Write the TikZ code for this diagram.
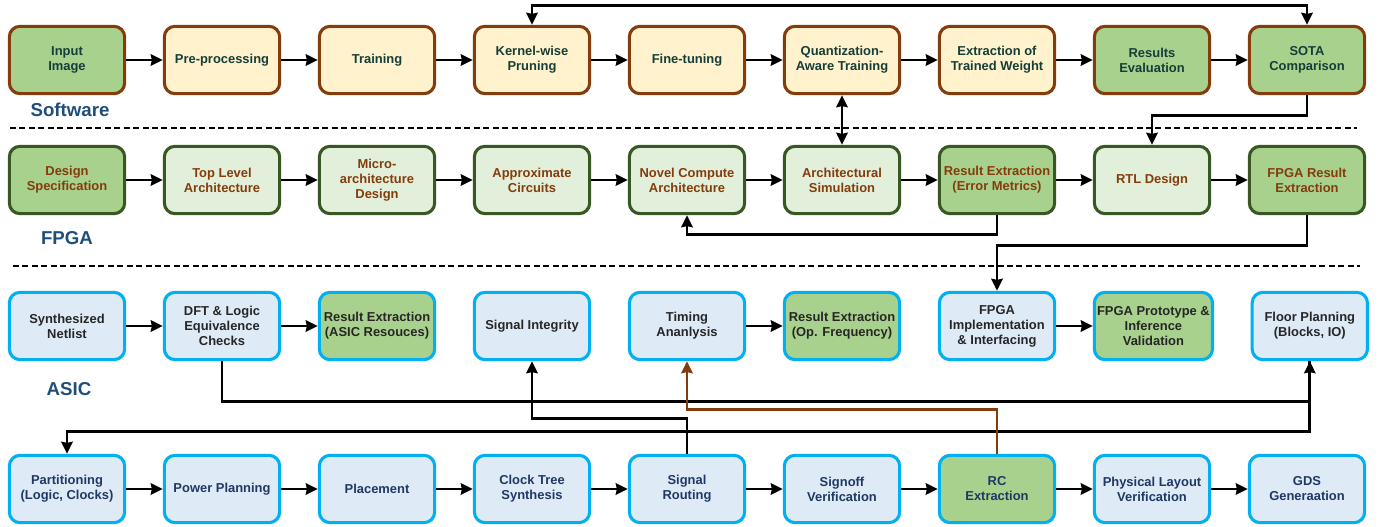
\documentclass[tikz,border=0pt]{standalone}
\usepackage{xcolor}
\usepackage{tikz}
\usepackage{fontspec}
\setmainfont{Liberation Sans}
\definecolor{swbrown}{RGB}{132, 60, 12}
\definecolor{swyellow}{RGB}{255, 242, 204}
\definecolor{swtext}{RGB}{22, 62, 56}
\definecolor{keygreen}{RGB}{169, 209, 142}
\definecolor{fpgagreen}{RGB}{56, 87, 35}
\definecolor{fpgalight}{RGB}{226, 239, 218}
\definecolor{asicblue}{RGB}{0, 176, 240}
\definecolor{asicfill}{RGB}{222, 235, 247}
\definecolor{asicdark}{RGB}{38, 38, 38}
\definecolor{asicnavy}{RGB}{31, 56, 100}
\definecolor{lanetext}{RGB}{31, 78, 121}
\usetikzlibrary{arrows.meta,positioning,calc}

\begin{document}
\begin{tikzpicture}[
    x=0.75pt, y=-0.75pt,
    node distance=27.45pt,
    every node/.style={align=center},
    box/.style={rounded corners=8pt, line width=2.3pt, minimum width=86.5pt, minimum height=50.5pt,
        inner sep=2pt, font=\fontsize{9.7pt}{11.3pt}\selectfont\bfseries},
    sw/.style={box, draw=swbrown, fill=swyellow, text=swtext},
    swkey/.style={sw, fill=keygreen},
    fp/.style={box, draw=fpgagreen, fill=fpgalight, text=swbrown},
    fpkey/.style={fp, fill=keygreen},
    asic/.style={box, draw=asicblue, fill=asicfill, text=asicdark},
    asickey/.style={asic, fill=keygreen},
    pnr/.style={asic, text=asicnavy},
    pnrkey/.style={pnr, fill=keygreen},
    lane/.style={font=\fontsize{14pt}{16pt}\selectfont\bfseries, text=lanetext},
    sep/.style={line width=2.2pt, dash pattern=on 4.5pt off 2.6pt},
    arrow/.style={->,>={Stealth[length=9pt,width=8.5pt,inset=0.8pt]},line width=2pt,black}
]
    \useasboundingbox (0,0) rectangle (1382,527);

    % Software flow
    \node[swkey] (input) at (67,60) {Input\\Image};
    \node[sw, right=of input] (prep) {Pre-processing};
    \node[sw, right=of prep] (train) {Training};
    \node[sw, right=of train] (prune) {Kernel-wise\\Pruning};
    \node[sw, right=of prune] (finetune) {Fine-tuning};
    \node[sw, right=of finetune] (qat) {Quantization-\\Aware Training};
    \node[sw, right=of qat] (weights) {Extraction of\\Trained Weight};
    \node[swkey, right=of weights] (evalres) {Results\\Evaluation};
    \node[swkey, right=of evalres] (sota) {SOTA\\Comparison};
    \node[lane] (swlabel) at (70,110) {Software};

    \draw[sep] (10,128) -- (1357,128);

    % FPGA flow
    \node[fpkey] (spec) at (67,180) {Design\\Specification};
    \node[fp, right=of spec] (toplevel) {Top Level\\Architecture};
    \node[fp, right=of toplevel] (microarch) {Micro-\\architecture\\Design};
    \node[fp, right=of microarch] (approx) {Approximate\\Circuits};
    \node[fp, right=of approx] (novel) {Novel Compute\\Architecture};
    \node[fp, right=of novel] (archsim) {Architectural\\Simulation};
    \node[fpkey, right=of archsim] (errmetric) {Result Extraction\\(Error Metrics)};
    \node[fp, right=of errmetric] (rtl) {RTL Design};
    \node[fpkey, right=of rtl] (fpgares) {FPGA Result\\Extraction};
    \node[lane] (fpgalabel) at (67,238) {FPGA};

    \draw[sep] (13,266) -- (1360,266);

    % ASIC flow
    \node[asic] (netlist) at (67,326) {Synthesized\\Netlist};
    \node[asic, right=of netlist] (dft) {DFT \& Logic\\Equivalence\\Checks};
    \node[asickey, right=of dft] (asicres) {Result Extraction\\(ASIC Resouces)};
    \node[asic, right=of asicres] (sigint) {Signal Integrity};
    \node[asic, right=of sigint] (timing) {Timing\\Ananlysis};
    \node[asickey, right=of timing] (opfreq) {Result Extraction\\(Op. Frequency)};
    \node[asic, right=of opfreq] (fpgaimpl) {FPGA\\Implementation\\\& Interfacing};
    \node[asickey, right=of fpgaimpl] (fpgaproto) {FPGA Prototype \&\\Inference\\Validation};
    \node[asic, right=of fpgaproto] (floorplan) {Floor Planning\\(Blocks, IO)};
    \node[lane] (asiclabel) at (69,389) {ASIC};

    \node[pnr] (partition) at (67,489) {Partitioning\\(Logic, Clocks)};
    \node[pnr, right=of partition] (power) {Power Planning};
    \node[pnr, right=of power] (placement) {Placement};
    \node[pnr, right=of placement] (cts) {Clock Tree\\Synthesis};
    \node[pnr, right=of cts] (routing) {Signal\\Routing};
    \node[pnr, right=of routing] (signoff) {Signoff\\Verification};
    \node[pnrkey, right=of signoff] (rcx) {RC\\Extraction};
    \node[pnr, right=of rcx] (physver) {Physical Layout\\Verification};
    \node[pnr, right=of physver] (gds) {GDS\\Generaation};

    % Arrows along the rows
    \foreach \a/\b in {input/prep, prep/train, train/prune, prune/finetune, finetune/qat,
        qat/weights, weights/evalres, evalres/sota,
        spec/toplevel, toplevel/microarch, microarch/approx, approx/novel, novel/archsim,
        archsim/errmetric, errmetric/rtl, rtl/fpgares,
        netlist/dft, dft/asicres, timing/opfreq, fpgaimpl/fpgaproto,
        partition/power, power/placement, placement/cts, cts/routing, routing/signoff,
        signoff/rcx, rcx/physver, physver/gds}
        \draw[arrow] (\a) -- (\b);

    % Feedback and cross-flow arrows
    \draw[arrow, <->] (prune.north) -- ++(0,-19) -| (sota.north);
    \draw[arrow, <->] (qat.south) -- (archsim.north);
    \draw[arrow] (sota.south) -- ++(0,20) -| (rtl.north);
    \draw[arrow] (errmetric.south) -- ++(0,19) -| (novel.south);
    \draw[arrow] (fpgares.south) -- ++(0,30) -| (fpgaimpl.north);
    \draw[arrow] (dft.south) -- ++(0,40) -| (floorplan.south);
    \draw[arrow] (floorplan.south) -- ++(0,70) -| (partition.north);
    \draw[arrow] (routing.north) -- ++(0,-35) -| (sigint.south);
    \draw[arrow, swbrown] (rcx.north) -- ++(0,-44) -| (timing.south);
\end{tikzpicture}
\end{document}
